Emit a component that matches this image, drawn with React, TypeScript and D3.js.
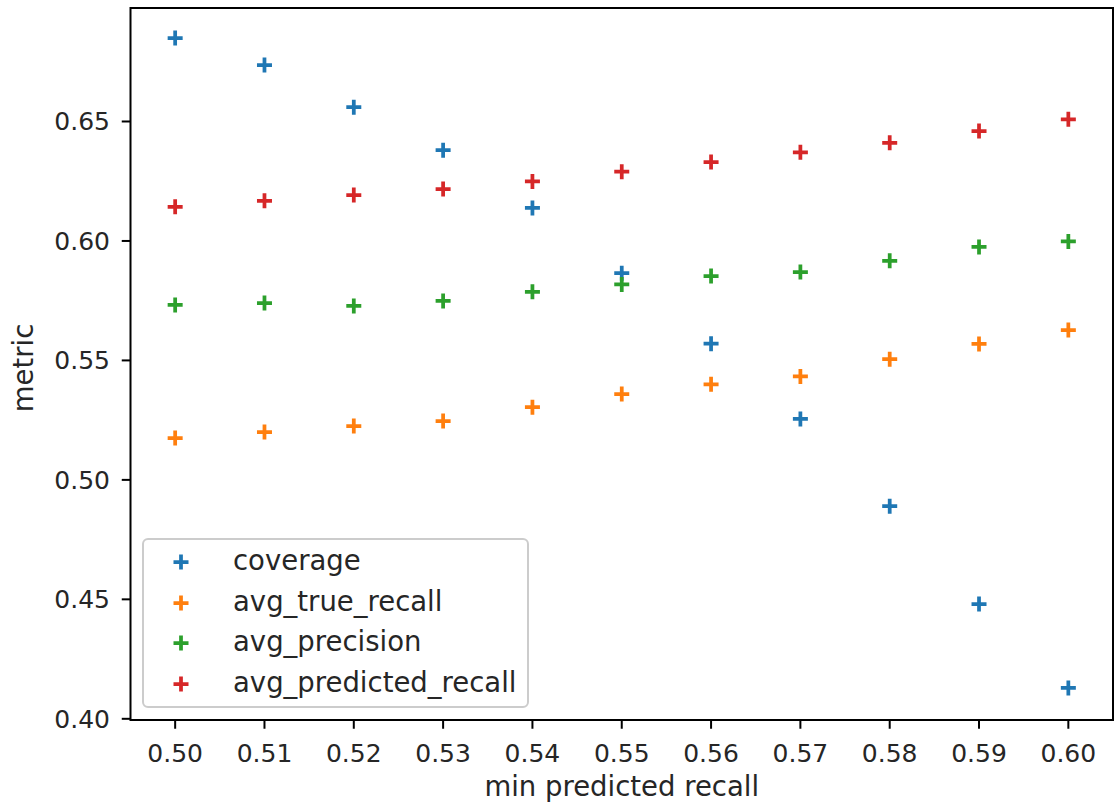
import React from "react";
import * as d3 from "d3";

const xValues = [0.5, 0.51, 0.52, 0.53, 0.54, 0.55, 0.56, 0.57, 0.58, 0.59, 0.6];
const coverage = [0.6849, 0.6736, 0.656, 0.638, 0.6138, 0.5865, 0.557, 0.5255, 0.489, 0.448, 0.4129];
const avgTrueRecall = [0.5175, 0.52, 0.5225, 0.5246, 0.5304, 0.5359, 0.54, 0.5433, 0.5505, 0.5569, 0.5627];
const avgPrecision = [0.5732, 0.574, 0.5728, 0.5749, 0.5787, 0.5818, 0.5853, 0.587, 0.5917, 0.5975, 0.5998];
const avgPredictedRecall = [0.6143, 0.6168, 0.6192, 0.6217, 0.6249, 0.629, 0.633, 0.6371, 0.6411, 0.646, 0.6509];
const seriesNames = ["coverage", "avg_true_recall", "avg_precision", "avg_predicted_recall"];
const seriesColors = ["#1f77b4", "#ff7f0e", "#2ca02c", "#d62728"];
const xTicks = [0.5, 0.51, 0.52, 0.53, 0.54, 0.55, 0.56, 0.57, 0.58, 0.59, 0.6];
const yTicks = [0.4, 0.45, 0.5, 0.55, 0.6, 0.65];

const W = 1114;
const H = 803;
const L = 130.5, R = 1113, T = 8, B = 720;
const FONT = "'DejaVu Sans', sans-serif";
const FS = 25;
const FSL = 27.5;

function Plus({ cx, cy, color, r = 7.5 }: { cx: number; cy: number; color: string; r?: number }) {
  return (
    <path
      d={`M${cx - r},${cy}H${cx + r}M${cx},${cy - r}V${cy + r}`}
      stroke={color}
      strokeWidth={3.75}
      fill="none"
    />
  );
}

export default function App() {
  const x = d3.scaleLinear().domain([0.495, 0.605]).range([L, R]);
  const y = d3.scaleLinear().domain([0.3995, 0.6975]).range([B, T]);
  const all = [coverage, avgTrueRecall, avgPrecision, avgPredictedRecall];

  const legX = 143, legY = 539, legW = 385, legH = 168;
  const rowY = [562, 603, 643, 684];

  return (
    <svg width={W} height={H} style={{ position: "absolute", left: 0, top: 0 }} fontFamily={FONT}>
      <rect x={0} y={0} width={W} height={H} fill="white" />
      {all.map((vals, si) => (
        <g key={si}>
          {vals.map((v, i) => (
            <Plus key={i} cx={x(xValues[i])} cy={y(v)} color={seriesColors[si]} />
          ))}
        </g>
      ))}
      <rect x={L} y={T} width={R - L} height={B - T} fill="none" stroke="black" strokeWidth={2} />
      {xTicks.map((t) => (
        <g key={t}>
          <line x1={x(t)} x2={x(t)} y1={B} y2={B + 8.75} stroke="black" strokeWidth={2} />
          <text x={x(t)} y={762} textAnchor="middle" fontSize={FS} fill="#262626">
            {d3.format(".2f")(t)}
          </text>
        </g>
      ))}
      {yTicks.map((t) => (
        <g key={t}>
          <line x1={L} x2={L - 8.75} y1={y(t)} y2={y(t)} stroke="black" strokeWidth={2} />
          <text x={110} y={y(t)} dy="0.35em" textAnchor="end" fontSize={FS} fill="#262626">
            {d3.format(".2f")(t)}
          </text>
        </g>
      ))}
      <text x={(L + R) / 2} y={796} textAnchor="middle" fontSize={FSL} fill="#262626">
        min predicted recall
      </text>
      <text
        transform={`translate(33,${(T + B) / 2 + 4}) rotate(-90)`}
        textAnchor="middle"
        fontSize={FSL}
        fill="#262626"
      >
        metric
      </text>
      <rect
        x={legX}
        y={legY}
        width={legW}
        height={legH}
        rx={5}
        fill="white"
        fillOpacity={0.8}
        stroke="#cccccc"
        strokeWidth={2}
      />
      {seriesNames.map((n, i) => (
        <g key={n}>
          <Plus cx={181} cy={rowY[i]} color={seriesColors[i]} />
          <text x={233} y={rowY[i] + 8} fontSize={FSL} fill="#262626">
            {n}
          </text>
        </g>
      ))}
    </svg>
  );
}
